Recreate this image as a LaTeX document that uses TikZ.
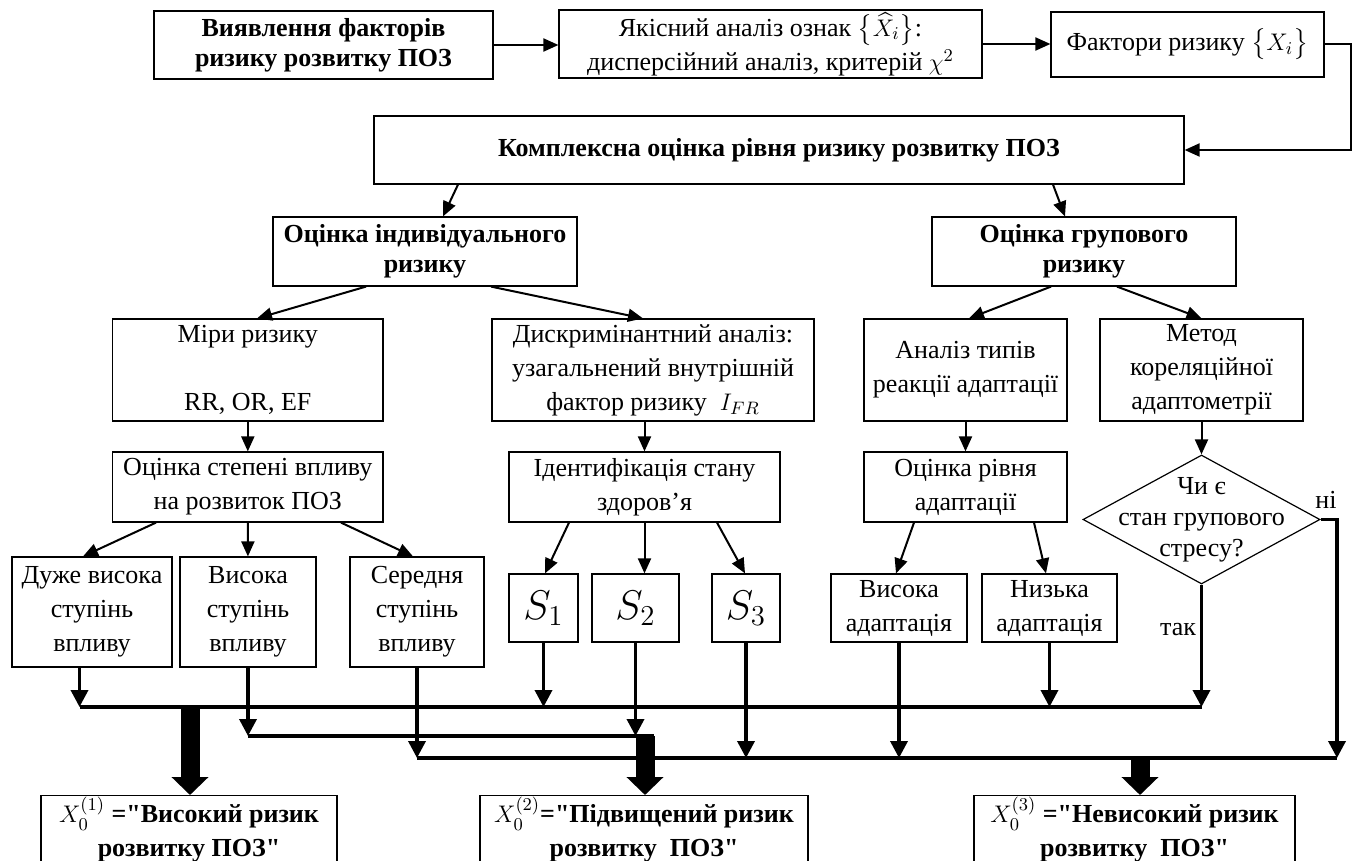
\documentclass[tikz,border=0pt]{standalone}
\usepackage{amsmath,amssymb}
\usepackage{fontspec}
\setmainfont{Liberation Serif}[Ligatures=TeXOff]
\usetikzlibrary{arrows.meta,shapes.geometric}

\begin{document}
\begin{tikzpicture}[x=1pt,y=-1pt,
  box/.style={draw,line width=.6pt,align=center,inner sep=1pt,font=\fontsize{13}{17}\selectfont},
  bbox/.style={box,font=\bfseries\fontsize{13}{15}\selectfont},
  sbox/.style={box,font=\fontsize{20}{24}\selectfont},
  xbox/.style={box,anchor=north,inner ysep=.5pt,font=\bfseries\fontsize{13}{17}\selectfont},
  arr/.style={line width=1pt,-{Triangle[length=7.5pt,width=6.5pt]}},
  feed/.style={line width=1.8pt,-{Triangle[length=8.5pt,width=8.5pt]}},
  bus/.style={line width=1.8pt},
  fat/.style={line width=9.5pt,-{Triangle[length=9pt,width=18pt]}}]
\path[use as bounding box] (0,0) rectangle (677,430.5);
\clip (0,0) rectangle (677,430.5);

% top row
\node[bbox,minimum width=169.5pt,minimum height=34pt] (A) at (161.75,22.5) {Виявлення факторів\\ризику розвитку ПОЗ};
\node[box,minimum width=211.5pt,minimum height=34pt] (B) at (385.25,22) {\rule{0pt}{12pt}Якісний аналіз ознак $\smash{\bigl\{\widehat{X}_i\bigr\}}$:\\дисперсійний аналіз, критерій $\chi^2$};
\node[box,minimum width=136.5pt,minimum height=32.5pt] (C) at (593.75,22.25) {Фактори ризику $\bigl\{X_i\bigr\}$};
\node[bbox,minimum width=405pt,minimum height=34pt] (D) at (389.5,75) {Комплексна оцінка рівня ризику розвитку ПОЗ};
\draw[arr] (A.east) -- (A.east -| B.west);
\draw[arr] (B.east) -- (B.east -| C.west);
\draw[arr] (C.east) -- ++(13,0) |- (D.east);

% individual / group
\node[bbox,minimum width=152pt,minimum height=34.5pt] (E) at (212.5,125.75) {Оцінка індивідуального\\ризику};
\node[bbox,minimum width=152pt,minimum height=34.5pt] (F) at (542,125.75) {Оцінка групового\\ризику};
\draw[arr] ([xshift=-160.5pt]D.south) -- ([xshift=9pt]E.north);
\draw[arr] ([xshift=137pt]D.south) -- ([xshift=-9.5pt]F.north);

% methods
\node[box,minimum width=135.25pt,minimum height=51pt] (G) at (123.9,185) {Міри ризику\\[17pt]RR, OR, EF};
\node[box,minimum width=161pt,minimum height=51pt] (H) at (326.5,185) {Дискримінантний аналіз:\\узагальнений внутрішній\\фактор ризику\ \ $I_{FR}$};
\node[box,minimum width=101.5pt,minimum height=51pt] (I) at (482.75,185) {Аналіз типів\\реакції адаптації};
\node[box,minimum width=101.5pt,minimum height=51pt] (J) at (600.75,185) {Метод\\кореляційної\\адаптометрії};
\draw[arr] ([xshift=-29.5pt]E.south) -- ([xshift=4.6pt]G.north);
\draw[arr] ([xshift=33pt]E.south) -- ([xshift=-5pt]H.north);
\draw[arr] ([xshift=-16.5pt]F.south) -- ([xshift=1.75pt]I.north);
\draw[arr] ([xshift=16.5pt]F.south) -- (J.north);

% estimates
\node[box,minimum width=135.25pt,minimum height=35pt] (K) at (123.9,243.5) {Оцінка степені впливу\\на розвиток ПОЗ};
\node[box,minimum width=135.5pt,minimum height=35pt] (L) at (322.25,243.5) {Ідентифікація стану\\здоров’я};
\node[box,minimum width=101.5pt,minimum height=35pt] (M) at (482.75,243.5) {Оцінка рівня\\адаптації};
\node[draw,line width=.6pt,diamond,minimum width=118.5pt,minimum height=64.5pt,inner sep=0pt] (N) at (600.75,259.75) {};
\node[align=center,font=\fontsize{13}{15.5}\selectfont] (Ntext) at (N.center) {Чи є\\стан групового\\стресу?};
\draw[arr] (G) -- (K);
\draw[arr] (H.south -| L.north) -- (L.north);
\draw[arr] (I) -- (M);
\draw[arr] (J) -- (N);

% degrees and states
\node[box,minimum width=80pt,minimum height=55pt] (P1) at (46,306) {Дуже висока\\ступінь\\впливу};
\node[box,minimum width=68pt,minimum height=55pt] (P2) at (124,306) {Висока\\ступінь\\впливу};
\node[box,minimum width=67pt,minimum height=55pt] (P3) at (208.5,306) {Середня\\ступінь\\впливу};
\node[sbox,minimum width=34.5pt,minimum height=34pt] (S1) at (271.75,304) {$S_1$};
\node[sbox,minimum width=43.5pt,minimum height=34pt] (S2) at (317.75,304) {$S_2$};
\node[sbox,minimum width=34pt,minimum height=34pt] (S3) at (373,304) {$S_3$};
\node[box,minimum width=68pt,minimum height=34pt] (Q1) at (449.5,304) {Висока\\адаптація};
\node[box,minimum width=67.5pt,minimum height=34pt] (Q2) at (524.75,304) {Низька\\адаптація};
\draw[arr] ([xshift=-45.9pt]K.south) -- ([xshift=-4.5pt]P1.north);
\draw[arr] (K) -- (P2);
\draw[arr] ([xshift=46.6pt]K.south) -- ([xshift=-2pt]P3.north);
\draw[arr] ([xshift=-37.75pt]L.south) -- ([xshift=.75pt]S1.north);
\draw[arr] (L.south) -- (L.south |- S2.north);
\draw[arr] ([xshift=36.25pt]L.south) -- ([xshift=-.5pt]S3.north);
\draw[arr] ([xshift=-25.75pt]M.south) -- ([xshift=-1.5pt]Q1.north);
\draw[arr] ([xshift=34.25pt]M.south) -- ([xshift=-1.75pt]Q2.north);
\node[font=\fontsize{13}{15}\selectfont] (yes) at (589,315) {так};
\node[font=\fontsize{13}{15}\selectfont] (no) at (663,250) {ні};

% collecting lines
\coordinate (b1s) at (39.75,353.5);
\coordinate (b1e) at (600.75,353.5);
\coordinate (b2s) at (124,368);
\coordinate (b2e) at (327,368);
\coordinate (b3s) at (208.5,379);
\coordinate (b3e) at (668.5,379);
\draw[bus] (b1s) -- (b1e);
\draw[bus] (b2s) -- (b2e);
\draw[bus] (b3s) -- (b3e);
\draw[feed] (P1.south -| b1s) -- (b1s);
\draw[feed] (P2) -- (P2 |- b2s);
\draw[feed] (P3) -- (P3 |- b3s);
\draw[feed] (S1) -- (S1 |- b1s);
\draw[feed] (S2) -- (S2 |- b2s);
\draw[feed] (S3) -- (S3 |- b3s);
\draw[feed] (Q1) -- (Q1 |- b3s);
\draw[feed] (Q2) -- (Q2 |- b1s);
\draw[feed] (N.south) -- (b1e);
\draw[feed] (N.east) -- (N.east -| b3e) -- (b3e);

% results
\node[xbox,minimum width=148pt] (X1) at (94.5,397.5) {$X_0^{(1)}$ ="Високий ризик\\розвитку ПОЗ"\\\strut};
\node[xbox,minimum width=164pt] (X2) at (322,397.5) {$X_0^{(2)}$="Підвищений ризик\\розвитку\ \ ПОЗ"\\\strut};
\node[xbox,minimum width=160.5pt] (X3) at (567.25,397.5) {$X_0^{(3)}$ ="Невисокий ризик\\розвитку\ \ ПОЗ"\\\strut};
\coordinate (j1) at (95,353.5);
\coordinate (j2) at (322.5,368);
\coordinate (j3) at (570,379);
\draw[fat] (j1) -- (j1 |- X1.north);
\draw[fat] (j2) -- (j2 |- X2.north);
\draw[fat] (j3) -- (j3 |- X3.north);
\end{tikzpicture}
\end{document}
